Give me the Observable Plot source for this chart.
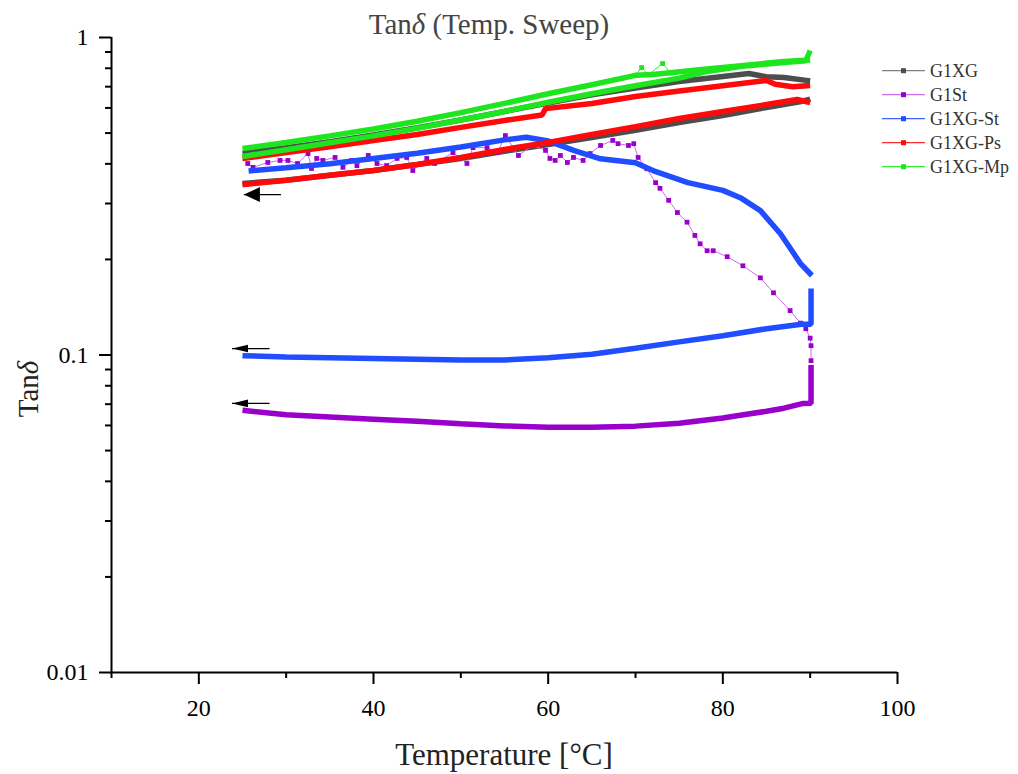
<!DOCTYPE html>
<html><head><meta charset="utf-8">
<script src="https://cdn.jsdelivr.net/npm/d3@7"></script>
<script src="https://cdn.jsdelivr.net/npm/@observablehq/plot@0.6"></script>
<style>
body{margin:0;background:#fff;font-family:"Liberation Serif",serif;}
#wrap{position:relative;width:1018px;height:774px;overflow:hidden;}
#title{position:absolute;top:10px;left:0;width:978px;text-align:center;font-size:29px;line-height:1;color:#444;}
#xlabel{position:absolute;top:739px;left:0;width:1008px;text-align:center;font-size:31px;line-height:1;color:#222;}
#ylabel{position:absolute;left:28px;top:389px;transform:translate(-50%,-50%) rotate(-90deg);font-size:29px;line-height:1;color:#222;white-space:nowrap;}
#chart{position:absolute;left:0;top:0;}
#legend{position:absolute;left:0;top:0;}
</style></head><body>
<div id="wrap">
<div id="chart"></div>
<div id="title">Tan<i>δ</i> (Temp. Sweep)</div>
<div id="xlabel">Temperature [°C]</div>
<div id="ylabel">Tan<i>δ</i></div>
<svg id="legend" width="1018" height="774"></svg>
</div>
<script>
// ---- data (Temperature °C, Tanδ) ----
const seriesNames = ["G1XG", "G1St", "G1XG-St", "G1XG-Ps", "G1XG-Mp"];
const markerColors = ["#4d4d4d", "#9a00cc", "#1f4dff", "#ff0a0a", "#1ee61e"];
const lineColors = ["#808080", "#cf6af0", "#3a62ff", "#ff2b2b", "#2ef02e"];

const g1xgHeat = [[25,0.432],[30,0.45],[35,0.47],[40,0.493],[45,0.52],[50,0.55],[55,0.585],[60,0.622],[65,0.66],[70,0.693],[75,0.727],[80,0.754],[83,0.77],[85,0.752],[87,0.748],[90,0.73]];
const g1xgCool = [[90,0.64],[89,0.629],[85,0.602],[80,0.568],[75,0.54],[70,0.51],[65,0.484],[60,0.46],[55,0.438],[50,0.416],[45,0.398],[40,0.381],[35,0.368],[30,0.355],[25,0.347]];

const g1stHeat = [[25.6,0.401],[26.2,0.390],[27.9,0.404],[29.3,0.410],[30.2,0.410],[31.3,0.401],[32.5,0.431],[32.9,0.387],[33.5,0.416],[34.2,0.410],[35.6,0.419],[36.5,0.390],[37.5,0.410],[38.1,0.395],[39.4,0.425],[40.4,0.401],[41.5,0.395],[42.7,0.416],[43.8,0.419],[44.5,0.381],[46.1,0.416],[47.0,0.401],[49.1,0.434],[50.7,0.401],[51.4,0.450],[53.0,0.450],[54.2,0.434],[55.1,0.491],[56.6,0.425],[58.2,0.457],[59.7,0.441],[60.2,0.416],[60.8,0.410],[61.4,0.425],[62.2,0.404],[62.9,0.419],[64.0,0.410],[64.8,0.431],[66.0,0.457],[67.4,0.474],[68.0,0.463],[69.2,0.457],[69.8,0.463],[70.3,0.419],[71.3,0.386],[72.3,0.349],[72.8,0.335],[73.8,0.307],[74.8,0.281],[75.9,0.262],[76.8,0.238],[77.4,0.224],[78.2,0.213],[78.9,0.213],[80.5,0.204],[82.3,0.191],[84.3,0.175],[85.8,0.157],[87.7,0.138],[88.9,0.126],[89.5,0.121],[90.0,0.113],[90.1,0.107],[90.1,0.096]];
const g1stCool = [[90.1,0.093],[90.1,0.0705],[89.1,0.0703],[87,0.068],[85,0.0665],[82,0.0646],[80,0.0633],[75,0.061],[70,0.0597],[65,0.0592],[60,0.0592],[55,0.0598],[50,0.0607],[45,0.0618],[40,0.0628],[35,0.0638],[30,0.0648],[25,0.067]];

const g1xgStHeat = [[25.7,0.38],[30,0.389],[35,0.40],[40,0.416],[45,0.432],[50,0.452],[55,0.476],[57.5,0.485],[60,0.472],[63,0.44],[66,0.415],[70,0.403],[72,0.381],[76,0.349],[80,0.33],[82,0.313],[84.3,0.285],[86.6,0.241],[88.9,0.194],[90.2,0.178]];
const g1xgStCool = [[90.1,0.162],[90.1,0.125],[89,0.125],[85,0.121],[80,0.115],[75,0.11],[70,0.105],[65,0.1005],[60,0.098],[55,0.0965],[50,0.0965],[45,0.097],[40,0.0975],[35,0.098],[30,0.0985],[25,0.0995]];

const g1xgPsHeat = [[25,0.416],[30,0.434],[35,0.453],[40,0.474],[45,0.495],[50,0.521],[55,0.548],[59.3,0.57],[59.7,0.597],[65,0.62],[70,0.652],[75,0.678],[80,0.705],[85,0.732],[86,0.712],[88,0.70],[90,0.706]];
const g1xgPsCool = [[90,0.624],[88.5,0.638],[85,0.615],[80,0.585],[75,0.556],[70,0.524],[65,0.495],[60,0.467],[55,0.444],[50,0.419],[45,0.398],[40,0.381],[35,0.368],[30,0.355],[25,0.344]];

const g1xgMpHeat = [[25,0.422],[30,0.443],[35,0.466],[40,0.49],[45,0.518],[50,0.55],[55,0.585],[60,0.625],[65,0.665],[70,0.705],[75,0.745],[78,0.78],[82,0.81],[86,0.83],[89.5,0.845],[90,0.91]];
const g1xgMpCool = [[90,0.85],[87,0.84],[83,0.82],[80,0.805],[77,0.79],[74,0.775],[72,0.765],[70,0.76],[65,0.71],[60,0.665],[55,0.62],[50,0.58],[45,0.545],[40,0.515],[35,0.49],[30,0.467],[25,0.447]];
const g1xgMpSpikes = [[70,0.76],[70.7,0.804],[71.5,0.765],[73.1,0.828],[74,0.775]];

// cooling-direction arrows: tip temperature, tail temperature, Tanδ level
const arrowTip = [25.16, 23.8, 23.8];
const arrowTail = [29.4, 28.1, 28.1];
const arrowLevel = [0.320, 0.1048, 0.0704];
const arrowBig = [true, false, false];

// axis ticks
const xMajor = [20, 40, 60, 80, 100];
const xMinor = [10, 30, 50, 70, 90];
const yMajor = [0.01, 0.1, 1];
const yMinor = [2,3,4,5,6,7,8,9].flatMap(k => [k * 0.01, k * 0.1]);

// ---- build tables ----
const toRows = (pairs) => pairs.map(([T, v]) => ({T, v}));
const denseBranches = [
  [0, g1xgHeat], [0, g1xgCool],
  [1, g1stCool],
  [2, g1xgStHeat], [2, g1xgStCool],
  [3, g1xgPsHeat], [3, g1xgPsCool],
  [4, g1xgMpHeat], [4, g1xgMpCool]
];
const arrows = arrowTip.map((t, i) => ({tip: t, tail: arrowTail[i], v: arrowLevel[i], big: arrowBig[i]}));

const headBig = {draw(ctx) { ctx.moveTo(0, 0); ctx.lineTo(16, -7.5); ctx.lineTo(16, 7.5); ctx.closePath(); }};
const headSmall = {draw(ctx) { ctx.moveTo(0, 0); ctx.lineTo(16, -3.8); ctx.lineTo(16, 3.8); ctx.closePath(); }};

const marks = [];
function addSeries(i) {
  if (i === 1) {
    marks.push(Plot.line(toRows(g1stHeat), {x: "T", y: "v", stroke: lineColors[1], strokeWidth: 1}));
    marks.push(Plot.dot(toRows(g1stHeat), {x: "T", y: "v", symbol: "square", r: 2.7, fill: markerColors[1], stroke: "none"}));
  }
  if (i === 4) {
    marks.push(Plot.line(toRows(g1xgMpSpikes), {x: "T", y: "v", stroke: lineColors[4], strokeWidth: 1}));
    marks.push(Plot.dot(toRows(g1xgMpSpikes), {x: "T", y: "v", symbol: "square", r: 2.7, fill: markerColors[4], stroke: "none"}));
  }
  denseBranches.filter(d => d[0] === i).forEach(([k, pairs]) => {
    marks.push(Plot.line(toRows(pairs), {x: "T", y: "v", stroke: markerColors[k], strokeWidth: 5.5, strokeLinejoin: "miter", strokeLinecap: "butt"}));
  });
}
[0, 1, 2, 3, 4].forEach(addSeries);

marks.push(
  Plot.link(arrows, {x1: "tip", x2: "tail", y1: "v", y2: "v", stroke: "#000", strokeWidth: 1.3}),
  Plot.dot(arrows.filter(a => a.big), {x: "tip", y: "v", symbol: headBig, r: 5, fill: "#000", stroke: "none"}),
  Plot.dot(arrows.filter(a => !a.big), {x: "tip", y: "v", symbol: headSmall, r: 5, fill: "#000", stroke: "none"}),
  Plot.axisX(xMajor, {tickSize: 12, tickPadding: 14, strokeWidth: 2, fontSize: 24, tickFormat: d => String(d), label: null}),
  Plot.axisX(xMinor, {tickSize: 6, strokeWidth: 2, tickFormat: () => "", label: null}),
  Plot.axisY(yMajor, {tickSize: 12, tickPadding: 11, strokeWidth: 2, fontSize: 24, tickFormat: d => String(d), label: null}),
  Plot.axisY(yMinor, {tickSize: 6, strokeWidth: 2, tickFormat: () => "", label: null}),
  Plot.ruleX([10], {strokeWidth: 2}),
  Plot.ruleY([0.01], {strokeWidth: 2})
);

const chart = Plot.plot({
  width: 1018, height: 774,
  marginLeft: 111, marginRight: 121, marginTop: 37, marginBottom: 102,
  x: {domain: [10, 100]},
  y: {type: "log", domain: [0.01, 1]},
  style: {fontFamily: "'Liberation Serif', serif", color: "#000", background: "transparent", overflow: "visible"},
  marks
});
document.getElementById("chart").append(chart);

// ---- legend ----
const lg = d3.select("#legend");
seriesNames.forEach((name, i) => {
  const cy = 70.7 + 24 * i;
  lg.append("line").attr("x1", 882).attr("x2", 925).attr("y1", cy).attr("y2", cy).attr("stroke", lineColors[i]).attr("stroke-width", 1.3);
  lg.append("rect").attr("x", 901).attr("y", cy - 2.5).attr("width", 5).attr("height", 5).attr("fill", markerColors[i]);
  lg.append("text").attr("x", 930).attr("y", cy + 6).attr("font-family", "'Liberation Serif', serif").attr("font-size", 18).attr("fill", "#333").text(name);
});
</script>
</body></html>
